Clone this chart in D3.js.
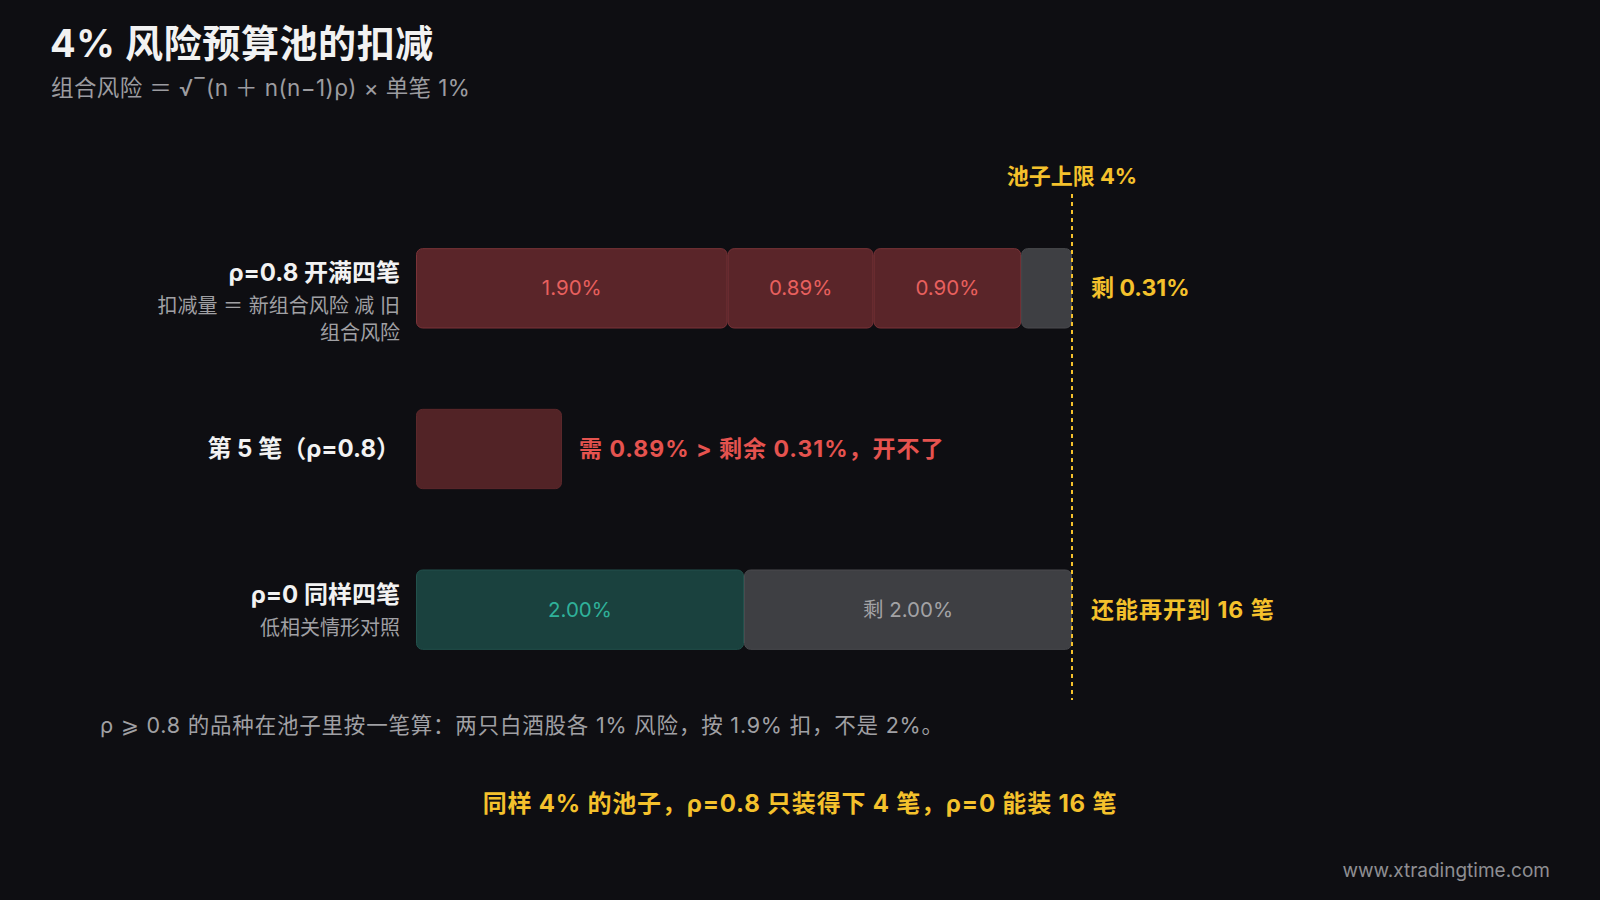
<!DOCTYPE html>
<html><head><meta charset="utf-8">
<script src="https://cdn.jsdelivr.net/npm/d3@7"></script>
<style>
html,body{margin:0;padding:0;background:#0e0e12;}
svg{display:block;}
text{font-family:Inter,"Noto Sans CJK SC","DejaVu Sans",sans-serif;}
</style></head>
<body><svg id="c" width="1600" height="900"></svg>
<script>
// ---- data ----
const poolLimit = 4;
const rows = ["rho08", "fifth", "rho0"];
const rowTitles = ["ρ=0.8 开满四笔", "第 5 笔（ρ=0.8）", "ρ=0 同样四笔"];
const rowSubs = [["扣减量 ＝ 新组合风险 减 旧", "组合风险"], [], ["低相关情形对照"]];
const rho08Segments = [1.90, 0.89, 0.90];
const rho08Remaining = 0.31;
const fifthNeed = [0.89];
const rho0Segments = [2.00];
const rho0Remaining = 2.00;
const rightNotes = ["剩 0.31%", "需 0.89% > 剩余 0.31%，开不了", "还能再开到 16 笔"];

const svg = d3.select("#c");
const W = 1600, H = 900;
svg.append("rect").attr("width", W).attr("height", H).attr("fill", "#0e0e12");

const gold = "#f4c12c", red = "#e5534f", gray = "#a3a3a6";

// title
svg.append("text").attr("x", 50).attr("y", 57).attr("fill", "#f2f2f2")
  .attr("font-size", 38).attr("font-weight", 700).attr("letter-spacing", 0.6).text("4% 风险预算池的扣减");
svg.append("text").attr("x", 51).attr("y", 96).attr("fill", "#9c9ca0")
  .attr("font-size", 22.5).attr("letter-spacing", 0.4).text("组合风险 ＝ √‾(n ＋ n(n−1)ρ) × 单笔 1%");

// scales
const x = d3.scaleLinear().domain([0, poolLimit]).range([416, 1072]);
const y = d3.scaleBand().domain(rows).range([208, 690]).paddingInner(0.5).paddingOuter(0.25);
const bh = y.bandwidth();

function stack(vals) {
  let acc = 0;
  return vals.map(v => { const s = acc; acc += v; return {v, s, e: acc}; });
}

function drawSegs(row, segs, fill, stroke, labelColor, labelFmt) {
  const g = svg.append("g");
  g.selectAll("rect").data(segs).join("rect")
    .attr("x", d => x(d.s) + 0.5).attr("y", y(row) + 0.5)
    .attr("width", d => x(d.e) - x(d.s) - 1).attr("height", bh - 1)
    .attr("rx", 6).attr("fill", fill).attr("stroke", stroke).attr("stroke-width", 1);
  if (labelFmt) {
    g.selectAll("text").data(segs).join("text")
      .attr("x", d => (x(d.s) + x(d.e)) / 2).attr("y", y(row) + bh / 2 + 7)
      .attr("text-anchor", "middle").attr("fill", labelColor).attr("font-size", 20.5)
      .text(labelFmt);
  }
}

// row 1
const s1 = stack(rho08Segments);
drawSegs("rho08", s1, "#5a2529", "#7a3338", "#e8605e", d => d.v.toFixed(2) + "%");
const last1 = s1[s1.length - 1].e;
drawSegs("rho08", [{v: rho08Remaining, s: last1, e: last1 + rho08Remaining}], "#3e3f43", "#4a4b4f", null, null);

// row 2
drawSegs("fifth", stack(fifthNeed), "#522326", "#5c282b", null, null);

// row 3
const s3 = stack(rho0Segments);
drawSegs("rho0", s3, "#1a413e", "#22514c", "#2fb19a", d => d.v.toFixed(2) + "%");
const last3 = s3[s3.length - 1].e;
drawSegs("rho0", [{v: rho0Remaining, s: last3, e: last3 + rho0Remaining}], "#3e3f43", "#4a4b4f", gray, d => "剩 " + d.v.toFixed(2) + "%");

// pool limit line
svg.append("line").attr("x1", x(poolLimit)).attr("x2", x(poolLimit))
  .attr("y1", 194).attr("y2", 700).attr("stroke", gold).attr("stroke-width", 2)
  .attr("stroke-dasharray", "4,4");
svg.append("text").attr("x", x(poolLimit)).attr("y", 184).attr("text-anchor", "middle")
  .attr("fill", gold).attr("font-size", 22).attr("font-weight", 700).text("池子上限 4%");

// left labels
rows.forEach((r, i) => {
  const cy = y(r) + bh / 2;
  const subs = rowSubs[i];
  const titleY = subs.length === 0 ? cy + 8 : cy - 7;
  svg.append("text").attr("x", 400).attr("y", titleY).attr("text-anchor", "end")
    .attr("fill", "#f2f2f2").attr("font-size", 24).attr("font-weight", 700)
    .text(rowTitles[i]);
  subs.forEach((s, j) => {
    svg.append("text").attr("x", 400).attr("y", titleY + 32 + j * 27).attr("text-anchor", "end")
      .attr("fill", "#a0a0a4").attr("font-size", 20).text(s);
  });
});

// right notes
svg.append("text").attr("x", x(poolLimit) + 19).attr("y", y("rho08") + bh / 2 + 8)
  .attr("fill", gold).attr("font-size", 23).attr("font-weight", 700).text(rightNotes[0]);
svg.append("text").attr("x", x(fifthNeed[0]) + 17).attr("y", y("fifth") + bh / 2 + 8)
  .attr("fill", red).attr("font-size", 23).attr("font-weight", 700).attr("letter-spacing", 1).text(rightNotes[1]);
svg.append("text").attr("x", x(poolLimit) + 19).attr("y", y("rho0") + bh / 2 + 8)
  .attr("fill", gold).attr("font-size", 23).attr("font-weight", 700).attr("letter-spacing", 1).text(rightNotes[2]);

// footnotes
svg.append("text").attr("x", 100).attr("y", 733).attr("fill", "#a0a0a4").attr("font-size", 21.5)
  .attr("letter-spacing", 0.8)
  .text("ρ ⩾ 0.8 的品种在池子里按一笔算：两只白酒股各 1% 风险，按 1.9% 扣，不是 2%。");
svg.append("text").attr("x", 800).attr("y", 812).attr("text-anchor", "middle")
  .attr("fill", gold).attr("font-size", 24).attr("font-weight", 700).attr("letter-spacing", 0.8)
  .text("同样 4% 的池子，ρ=0.8 只装得下 4 笔，ρ=0 能装 16 笔");
svg.append("text").attr("x", 1550).attr("y", 877).attr("text-anchor", "end")
  .attr("fill", "#8e8e92").attr("font-size", 19).text("www.xtradingtime.com");
</script></body></html>
